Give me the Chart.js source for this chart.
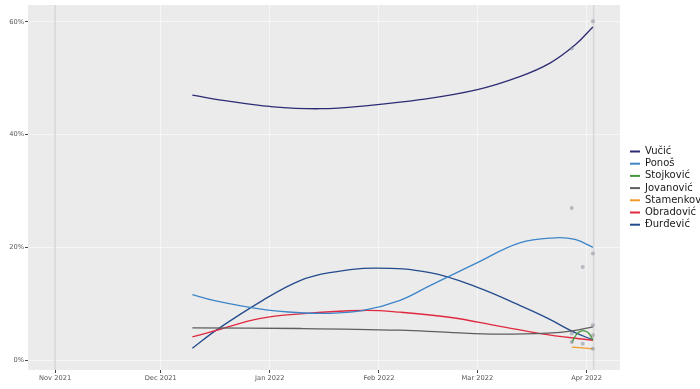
<!DOCTYPE html>
<html>
<head>
<meta charset="utf-8">
<script src="https://cdn.jsdelivr.net/npm/chart.js@4.4.1/dist/chart.umd.min.js"></script>
<style>
  html, body { margin: 0; padding: 0; background: #fff; }
  #wrap { width: 700px; height: 389px; }
</style>
</head>
<body>
<div id="wrap"><canvas id="myChart" width="700" height="389"></canvas></div>
<script>
// x values are days counted from 1 Nov 2021
var candidates = ['Vučić', 'Ponoš', 'Stojković', 'Jovanović', 'Stamenković', 'Obradović', 'Đurđević'];

var vucicDays = [39, 49.7, 61, 75.3, 89.5, 103.7, 120, 132, 140.6, 147.7, 152.8];
var vucicVals = [47.0, 45.9, 45.0, 44.6, 45.2, 46.2, 48.0, 50.3, 52.7, 55.9, 59.1];

var ponosDays = [39, 45, 58, 69.6, 78, 87.5, 98, 106.5, 120, 132, 142, 147.7, 152.8];
var ponosVals = [11.6, 10.6, 9.1, 8.4, 8.3, 8.8, 10.6, 13.2, 17.3, 20.8, 21.7, 21.4, 20.0];

var stojkovicDays = [146.8, 148.2, 149.6, 151.4, 152.8];
var stojkovicVals = [3.1, 4.6, 5.2, 4.9, 3.6];

var jovanovicDays = [39, 69.6, 98, 112, 126, 140, 147, 152.8];
var jovanovicVals = [5.7, 5.6, 5.3, 4.9, 4.6, 4.8, 5.2, 5.9];

var stamenkovicDays = [146.8, 152.8];
var stamenkovicVals = [2.3, 2.0];

var obradovicDays = [39, 46, 58, 69.6, 87.5, 98, 112, 126.4, 137.8, 152.8];
var obradovicVals = [4.1, 5.3, 7.35, 8.2, 8.8, 8.5, 7.6, 6.0, 4.7, 3.5];

var djurdjevicDays = [39, 46, 59, 69.6, 78, 91, 106.5, 120, 132, 140, 147.3, 152.8];
var djurdjevicVals = [2.1, 5.4, 10.6, 14.1, 15.5, 16.3, 15.5, 12.9, 9.7, 7.4, 5.0, 3.6];

// individual poll results
var pollDays = [146.8, 152.8, 146.8, 149.9, 152.8, 152.8, 152.8, 149.9, 146.8, 146.8, 152.8];
var pollVals = [55.3, 60.1, 27.0, 16.5, 18.9, 6.2, 4.4, 2.9, 4.7, 3.2, 2.0];

var monthTicks = [0, 30, 61, 92, 120, 151];
var monthLabels = ['Nov 2021', 'Dec 2021', 'Jan 2022', 'Feb 2022', 'Mar 2022', 'Apr 2022'];
var pctTicks = [0, 20, 40, 60];

var colors = ['#2d2b73', '#3d85c9', '#46983c', '#5e5e5e', '#f39a2c', '#e0283f', '#234b8c'];

function pts(days, vals) {
    return days.map(function (d, i) { return { x: d, y: vals[i] }; });
}

var series = [
    pts(vucicDays, vucicVals),
    pts(ponosDays, ponosVals),
    pts(stojkovicDays, stojkovicVals),
    pts(jovanovicDays, jovanovicVals),
    pts(stamenkovicDays, stamenkovicVals),
    pts(obradovicDays, obradovicVals),
    pts(djurdjevicDays, djurdjevicVals)
];

var datasets = series.map(function (s, i) {
    return {
        label: candidates[i],
        data: s,
        borderColor: colors[i],
        backgroundColor: colors[i],
        borderWidth: 1.3,
        pointRadius: 0,
        tension: 0.4,
        fill: false
    };
});

datasets.unshift({
    label: 'polls',
    type: 'scatter',
    data: pts(pollDays, pollVals),
    backgroundColor: 'rgba(130, 135, 150, 0.5)',
    borderWidth: 0,
    pointRadius: 2
});

var panelPlugin = {
    id: 'panel',
    beforeDraw: function (chart) {
        var a = chart.chartArea, c = chart.ctx;
        c.save();
        c.fillStyle = '#ebebeb';
        c.fillRect(a.left, a.top, a.right - a.left, a.bottom - a.top);
        c.restore();
    },
    beforeDatasetsDraw: function (chart) {
        var a = chart.chartArea, c = chart.ctx, xs = chart.scales.x;
        c.save();
        c.strokeStyle = '#d6d6d6';
        c.lineWidth = 1.5;
        [0, 153].forEach(function (d) {
            var px = xs.getPixelForValue(d);
            c.beginPath();
            c.moveTo(px, a.top);
            c.lineTo(px, a.bottom);
            c.stroke();
        });
        c.restore();
    },
    afterDraw: function (chart) {
        var c = chart.ctx;
        c.save();
        c.font = '10px "DejaVu Sans"';
        c.textBaseline = 'middle';
        candidates.forEach(function (name, i) {
            var y = 151.5 + i * 12.2;
            c.strokeStyle = colors[i];
            c.lineWidth = 2;
            c.beginPath();
            c.moveTo(630, y);
            c.lineTo(640, y);
            c.stroke();
            c.fillStyle = '#1a1a1a';
            c.fillText(name, 645, y);
        });
        c.restore();
    }
};

new Chart('myChart', {
    type: 'line',
    data: { datasets: datasets },
    plugins: [panelPlugin],
    options: {
        responsive: false,
        animation: false,
        layout: { padding: { top: 3, right: 80, left: 0, bottom: 0 } },
        plugins: {
            legend: { display: false },
            tooltip: { enabled: false }
        },
        scales: {
            x: {
                type: 'linear',
                min: -7.7,
                max: 160.5,
                afterBuildTicks: function (scale) {
                    scale.ticks = monthTicks.map(function (v) { return { value: v }; });
                },
                afterFit: function (scale) { scale.height = 19; },
                ticks: {
                    autoSkip: false,
                    maxRotation: 0,
                    padding: 1,
                    color: '#555555',
                    font: { family: 'DejaVu Sans', size: 6.7 },
                    callback: function (v, i) { return monthLabels[i]; }
                },
                grid: { color: '#f6f6f6', lineWidth: 1, tickLength: 3, tickColor: '#444444' },
                border: { display: false }
            },
            y: {
                min: -1.76,
                max: 63,
                afterBuildTicks: function (scale) {
                    scale.ticks = pctTicks.map(function (v) { return { value: v }; });
                },
                afterFit: function (scale) { scale.width = 28; },
                ticks: {
                    padding: 1,
                    color: '#555555',
                    font: { family: 'DejaVu Sans', size: 6.7 },
                    callback: function (v) { return v + '%'; }
                },
                grid: { color: '#f6f6f6', lineWidth: 1, tickLength: 3, tickColor: '#444444' },
                border: { display: false }
            }
        }
    }
});
</script>
</body>
</html>
